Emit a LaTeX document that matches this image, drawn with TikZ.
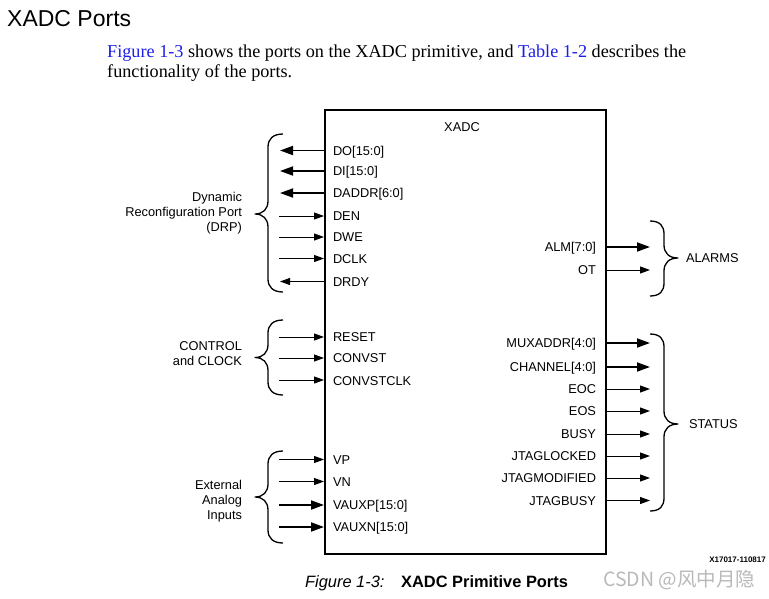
\documentclass[tikz,border=0pt]{standalone}
\usepackage{fontspec}
\setmainfont{Liberation Sans}
\newfontfamily\bodyserif{Liberation Serif}
\newfontfamily\cjkfont{Noto Sans CJK SC}
\usetikzlibrary{arrows.meta}
\definecolor{linkColor}{RGB}{30,30,235}
\definecolor{markColor}{RGB}{185,185,185}

\begin{document}
\begin{tikzpicture}[x=1pt,y=-1pt,
  portlabel/.style={inner sep=0pt, outer sep=0pt, font=\fontsize{12.8}{15}\selectfont},
  grouplabel/.style={inner sep=0pt, outer sep=0pt, align=right, font=\fontsize{12.8}{15}\selectfont},
  busarrow/.style={line width=1.8pt, -{Triangle[length=13pt,width=9pt]}},
  sigarrow/.style={line width=1pt, -{Triangle[length=10pt,width=7pt]}},
  groupbrace/.style={line width=1.3pt, line join=round}]
\path[use as bounding box,fill=white] (0,0) rectangle (769,598);

% heading and text
\node[anchor=base west,inner sep=0pt] (heading) at (7,26) {\fontsize{23}{27}\selectfont XADC Ports};
\node[anchor=base west,inner sep=0pt] (para1) at (107,57) {\bodyserif\fontsize{18.2}{20}\selectfont\textcolor{linkColor}{Figure 1-3} shows the ports on the XADC primitive, and \textcolor{linkColor}{Table 1-2} describes the};
\node[anchor=base west,inner sep=0pt] (para2) at (107,77) {\bodyserif\fontsize{18.2}{20}\selectfont functionality of the ports.};

% primitive
\node[draw,line width=1.5pt,anchor=north west,minimum width=281pt,minimum height=444pt,inner sep=0pt] (xadc) at (324,109) {};
\node[portlabel,anchor=base] (xadctitle) at (462,131.5) {XADC};

% DRP ports
\node[portlabel,anchor=base west] (do) at (333,155) {DO[15:0]};
\node[portlabel,anchor=base west] (di) at (333,175.5) {DI[15:0]};
\node[portlabel,anchor=base west] (daddr) at (333,197.5) {DADDR[6:0]};
\node[portlabel,anchor=base west] (den) at (333,220.5) {DEN};
\node[portlabel,anchor=base west] (dwe) at (333,241.5) {DWE};
\node[portlabel,anchor=base west] (dclk) at (333,263) {DCLK};
\node[portlabel,anchor=base west] (drdy) at (333,286) {DRDY};
\coordinate (do-end) at (280,150.5);
\coordinate (di-end) at (280,171);
\coordinate (daddr-end) at (280,193);
\coordinate (den-start) at (279,216);
\coordinate (dwe-start) at (279,237);
\coordinate (dclk-start) at (279,258.5);
\coordinate (drdy-end) at (280,281.5);
\draw[busarrow] (xadc.west |- do-end) -- (do-end);
\draw[busarrow] (xadc.west |- di-end) -- (di-end);
\draw[busarrow] (xadc.west |- daddr-end) -- (daddr-end);
\draw[sigarrow] (den-start) -- (xadc.west |- den-start);
\draw[sigarrow] (dwe-start) -- (xadc.west |- dwe-start);
\draw[sigarrow] (dclk-start) -- (xadc.west |- dclk-start);
\draw[sigarrow] (xadc.west |- drdy-end) -- (drdy-end);

% control ports
\node[portlabel,anchor=base west] (reset) at (333,341.5) {RESET};
\node[portlabel,anchor=base west] (convst) at (333,362.5) {CONVST};
\node[portlabel,anchor=base west] (convstclk) at (333,385) {CONVSTCLK};
\coordinate (reset-start) at (279,337);
\coordinate (convst-start) at (279,358);
\coordinate (convstclk-start) at (279,380);
\draw[sigarrow] (reset-start) -- (xadc.west |- reset-start);
\draw[sigarrow] (convst-start) -- (xadc.west |- convst-start);
\draw[sigarrow] (convstclk-start) -- (xadc.west |- convstclk-start);

% analog inputs
\node[portlabel,anchor=base west] (vp) at (333,464) {VP};
\node[portlabel,anchor=base west] (vn) at (333,486) {VN};
\node[portlabel,anchor=base west] (vauxp) at (333,509.5) {VAUXP[15:0]};
\node[portlabel,anchor=base west] (vauxn) at (333,531.5) {VAUXN[15:0]};
\coordinate (vp-start) at (279,459.5);
\coordinate (vn-start) at (279,481.5);
\coordinate (vauxp-start) at (279,505);
\coordinate (vauxn-start) at (279,527);
\draw[sigarrow] (vp-start) -- (xadc.west |- vp-start);
\draw[sigarrow] (vn-start) -- (xadc.west |- vn-start);
\draw[busarrow] (vauxp-start) -- (xadc.west |- vauxp-start);
\draw[busarrow] (vauxn-start) -- (xadc.west |- vauxn-start);

% alarm outputs
\node[portlabel,anchor=base east] (alm) at (596,251.5) {ALM[7:0]};
\node[portlabel,anchor=base east] (ot) at (596,274) {OT};
\coordinate (alm-end) at (650,247);
\coordinate (ot-end) at (650,270);
\draw[busarrow] (xadc.east |- alm-end) -- (alm-end);
\draw[sigarrow] (xadc.east |- ot-end) -- (ot-end);

% status outputs
\node[portlabel,anchor=base east] (muxaddr) at (596,347.5) {MUXADDR[4:0]};
\node[portlabel,anchor=base east] (channel) at (596,371) {CHANNEL[4:0]};
\node[portlabel,anchor=base east] (eoc) at (596,393) {EOC};
\node[portlabel,anchor=base east] (eos) at (596,415) {EOS};
\node[portlabel,anchor=base east] (busy) at (596,438) {BUSY};
\node[portlabel,anchor=base east] (jtaglocked) at (596,460.5) {JTAGLOCKED};
\node[portlabel,anchor=base east] (jtagmodified) at (596,482.5) {JTAGMODIFIED};
\node[portlabel,anchor=base east] (jtagbusy) at (596,505) {JTAGBUSY};
\coordinate (muxaddr-end) at (650,343);
\coordinate (channel-end) at (650,367);
\coordinate (eoc-end) at (650,389);
\coordinate (eos-end) at (650,411);
\coordinate (busy-end) at (650,434);
\coordinate (jtaglocked-end) at (650,456);
\coordinate (jtagmodified-end) at (650,478);
\coordinate (jtagbusy-end) at (650,500.5);
\draw[busarrow] (xadc.east |- muxaddr-end) -- (muxaddr-end);
\draw[busarrow] (xadc.east |- channel-end) -- (channel-end);
\draw[sigarrow] (xadc.east |- eoc-end) -- (eoc-end);
\draw[sigarrow] (xadc.east |- eos-end) -- (eos-end);
\draw[sigarrow] (xadc.east |- busy-end) -- (busy-end);
\draw[sigarrow] (xadc.east |- jtaglocked-end) -- (jtaglocked-end);
\draw[sigarrow] (xadc.east |- jtagmodified-end) -- (jtagmodified-end);
\draw[sigarrow] (xadc.east |- jtagbusy-end) -- (jtagbusy-end);

% braces
\draw[groupbrace] (283,134) .. controls (273,134) and (268,139) .. (268,147) -- (268,201)
  .. controls (268,209) and (263,214) .. (255,214) .. controls (263,214) and (268,219) .. (268,227)
  -- (268,279) .. controls (268,287) and (273,292) .. (283,292);
\draw[groupbrace] (283,320) .. controls (273,320) and (268,325) .. (268,333) -- (268,344.5)
  .. controls (268,352.5) and (263,357.5) .. (255,357.5) .. controls (263,357.5) and (268,362.5) .. (268,370.5)
  -- (268,382) .. controls (268,390) and (273,395) .. (283,395);
\draw[groupbrace] (283,451) .. controls (273,451) and (268,456) .. (268,464) -- (268,484)
  .. controls (268,492) and (263,497) .. (255,497) .. controls (263,497) and (268,502) .. (268,510)
  -- (268,530) .. controls (268,538) and (273,543) .. (283,543);
\draw[groupbrace] (650,221) .. controls (660,221) and (664,226) .. (664,234) -- (664,245)
  .. controls (664,253) and (669,258) .. (678,258) .. controls (669,258) and (664,263) .. (664,271)
  -- (664,283) .. controls (664,291) and (660,296) .. (650,296);
\draw[groupbrace] (650,334) .. controls (660,334) and (664,339) .. (664,347) -- (664,411)
  .. controls (664,419) and (669,424) .. (678,424) .. controls (669,424) and (664,429) .. (664,437)
  -- (664,498) .. controls (664,506) and (660,511) .. (650,511);

% group names
\node[grouplabel,anchor=east] (drp) at (242,213) {Dynamic\\Reconfiguration Port\\(DRP)};
\node[grouplabel,anchor=east] (ctrl) at (242,354) {CONTROL\\and CLOCK};
\node[grouplabel,anchor=east] (analog) at (242,501) {External\\Analog\\Inputs};
\node[portlabel,anchor=west] (alarms) at (686,258) {ALARMS};
\node[portlabel,anchor=west] (status) at (689,424) {STATUS};

% caption
\node[anchor=base east,inner sep=0pt] (tag) at (766,562) {\fontsize{8}{9}\selectfont\bfseries X17017-110817};
\node[anchor=base west,inner sep=0pt] (capnum) at (305,587) {\fontsize{16.4}{18}\selectfont\itshape Figure 1-3:};
\node[anchor=base west,inner sep=0pt] (captext) at (401,587) {\fontsize{16.4}{18}\selectfont\bfseries XADC Primitive Ports};
\node[anchor=base west,inner sep=0pt,text=markColor] (mark) at (603,586) {\cjkfont\fontsize{19.5}{22}\selectfont CSDN @风中月隐};
\end{tikzpicture}
\end{document}
